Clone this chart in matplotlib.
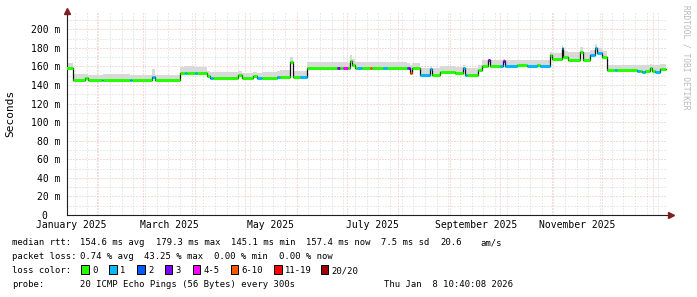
import numpy as np
import matplotlib
matplotlib.use("Agg")
import matplotlib.pyplot as plt
import matplotlib.dates as mdates
from matplotlib.ticker import MultipleLocator, NullFormatter
from matplotlib.transforms import ScaledTranslation
from matplotlib.patches import Rectangle

plt.rcParams['font.family'] = ['DejaVu Sans Mono']

# ---------------- data ----------------
seg_start = [
    "2025-01-13", "2025-01-18", "2025-01-25", "2025-01-27", "2025-02-04", "2025-02-05",
    "2025-02-21", "2025-02-22", "2025-03-06", "2025-03-08", "2025-03-23", "2025-03-26",
    "2025-03-27", "2025-04-01", "2025-04-02", "2025-04-08", "2025-04-10", "2025-04-12",
    "2025-04-27", "2025-04-29", "2025-05-06", "2025-05-08", "2025-05-11", "2025-05-20",
    "2025-05-22", "2025-05-28", "2025-05-30", "2025-06-03", "2025-06-07", "2025-06-25",
    "2025-06-27", "2025-06-29", "2025-07-02", "2025-07-03", "2025-07-04", "2025-07-06",
    "2025-07-07", "2025-07-10", "2025-07-15", "2025-07-16", "2025-07-23", "2025-07-25",
    "2025-08-06", "2025-08-07", "2025-08-08", "2025-08-09", "2025-08-14", "2025-08-20",
    "2025-08-21", "2025-08-26", "2025-09-04", "2025-09-09", "2025-09-10", "2025-09-11",
    "2025-09-18", "2025-09-20", "2025-09-24", "2025-09-25", "2025-10-01", "2025-10-03",
    "2025-10-04", "2025-10-11", "2025-10-17", "2025-10-23", "2025-10-25", "2025-10-31",
    "2025-11-01", "2025-11-07", "2025-11-08", "2025-11-11", "2025-11-18", "2025-11-20",
    "2025-11-24", "2025-11-27", "2025-11-28", "2025-12-01", "2025-12-04", "2025-12-09",
    "2025-12-10", "2025-12-22", "2025-12-24", "2025-12-25", "2025-12-27", "2025-12-30",
    "2025-12-31", "2026-01-02", "2026-01-05",
]
data_end = "2026-01-08T10:40"

median_ms = [
    158.5, 145.5, 147.0, 145.5, 145.5, 145.5,
    145.5, 145.5, 149.0, 145.5, 152.5, 152.5,
    152.5, 152.5, 152.5, 149.5, 147.0, 147.0,
    150.5, 147.0, 149.5, 147.0, 147.0, 149.0,
    149.0, 164.5, 149.0, 149.0, 158.0, 158.0,
    158.0, 158.0, 158.0, 166.0, 162.0, 158.0,
    158.0, 158.0, 158.0, 158.0, 158.0, 158.0,
    158.0, 158.0, 153.0, 158.0, 151.0, 157.0,
    151.0, 154.0, 152.5, 158.5, 151.0, 151.0,
    156.0, 160.5, 167.0, 160.5, 160.0, 166.0,
    160.0, 161.0, 160.0, 161.0, 160.0, 172.0,
    167.5, 179.5, 170.5, 167.0, 176.0, 167.0,
    172.5, 180.0, 174.0, 170.5, 156.5, 156.0,
    156.0, 155.0, 155.0, 154.5, 155.0, 158.0,
    155.0, 154.5, 157.0,
]

smoke_top_ms = [
    164, 152, 152, 151, 151, 152,
    151, 151, 157, 151, 159, 160,
    160, 159, 159, 155, 154, 154,
    155, 153, 154, 153, 154, 155,
    156, 170, 155, 155, 165, 165,
    165, 165, 164, 172, 168, 165,
    165, 165, 165, 165, 165, 165,
    164, 164, 162, 164, 158, 160,
    158, 160, 159, 162, 158, 158,
    161, 167, 168, 167, 167, 168,
    167, 167, 167, 167, 167, 176,
    174, 183, 177, 175, 181, 176,
    178, 184, 180, 177, 162, 162,
    162, 161, 161, 161, 161, 163,
    161, 162, 163,
]

loss_class = [
    0, 0, 0, 0, 1, 0,
    1, 0, 1, 0, 0, 1,
    0, 1, 0, 0, 1, 0,
    0, 0, 0, 1, 0, 1,
    0, 0, 0, 1, 0, 3,
    0, 4, 0, 0, 0, 0,
    1, 0, 5, 0, 1, 0,
    2, 3, 5, 0, 1, 1,
    0, 0, 0, 1, 1, 0,
    0, 0, 3, 0, 1, 3,
    1, 0, 1, 0, 1, 0,
    0, 1, 0, 0, 0, 0,
    1, 1, 1, 0, 0, 1,
    0, 1, 0, 1, 0, 0,
    0, 1, 0,
]

loss_labels = ["0", "1", "2", "3", "4-5", "6-10", "11-19", "20/20"]
loss_colors = ["#26ff00", "#00b8ff", "#0059ff", "#7e00ff", "#ff00ff", "#ff5500", "#ff0000", "#a10000"]

y_ticks = [0, 20, 40, 60, 80, 100, 120, 140, 160, 180, 200]
y_ticklabels = ["0", "20 m", "40 m", "60 m", "80 m", "100 m", "120 m", "140 m", "160 m", "180 m", "200 m"]

x_label_dates = ["2025-01-16T12", "2025-03-16T12", "2025-05-16T12",
                 "2025-07-16T12", "2025-09-16T12", "2025-11-16T12"]
x_label_text = ["January 2025", "March 2025", "May 2025",
                "July 2025", "September 2025", "November 2025"]

x_start = "2025-01-14T05:00"
x_stop = "2026-01-09T06:00"

# ---------------- figure ----------------
W, H = 697, 297
fig = plt.figure(figsize=(W / 100, H / 100), dpi=100)
fig.patch.set_facecolor("white")
ax = fig.add_axes([67 / W, 1 - 215 / H, 600 / W, (215 - 12) / H])

starts = mdates.date2num(np.array(seg_start, dtype="datetime64[m]"))
end = mdates.date2num(np.datetime64(data_end))
ends = np.append(starts[1:], end)
xs = np.append(starts, end)
med = np.array(median_ms, dtype=float)
smk = np.array(smoke_top_ms, dtype=float)
med_s = np.append(med, med[-1])
smk_s = np.append(smk, smk[-1])

# smoke
ax.fill_between(xs, med_s - 0.5, smk_s, step="post", color="#d9d9d9", lw=0, zorder=1)
# black median
ax.step(xs, med_s, where="post", color="#111111", lw=0.9, zorder=2)
# loss coloured median
lc = ax.hlines(med, starts, ends, colors=[loss_colors[c] for c in loss_class], lw=2.2, zorder=3)
lc.set_capstyle("butt")

ax.set_xlim(mdates.date2num(np.datetime64(x_start)), mdates.date2num(np.datetime64(x_stop)))
ax.set_ylim(0, 218.6)

# grid
ax.xaxis.set_major_locator(mdates.MonthLocator())
ax.xaxis.set_minor_locator(mdates.WeekdayLocator(byweekday=mdates.SU))
ax.xaxis.set_major_formatter(NullFormatter())
ax.xaxis.set_minor_formatter(NullFormatter())
ax.yaxis.set_major_locator(MultipleLocator(20))
ax.yaxis.set_minor_locator(MultipleLocator(10))
ax.set_axisbelow(True)
ax.grid(which="major", color="#f0b8b8", lw=0.72, ls=(0, (1, 2)), zorder=0)
ax.grid(which="minor", color="#d6d6d6", lw=0.72, ls=(0, (1, 2)), zorder=0)

ax.set_yticks(y_ticks)
ax.set_yticklabels(y_ticklabels)
ax.tick_params(axis="both", which="both", length=0)
ax.tick_params(axis="y", pad=5, labelsize=7)
lbl0 = ax.get_yticklabels()[0]
lbl0.set_transform(lbl0.get_transform() + ScaledTranslation(-0.13, 0, fig.dpi_scale_trans))

off = ScaledTranslation(0, -0.045, fig.dpi_scale_trans)
for d, t in zip(x_label_dates, x_label_text):
    ax.text(mdates.date2num(np.datetime64(d)), 0, t, transform=ax.get_xaxis_transform() + off,
            ha="center", va="top", fontsize=7)

for s in ["top", "right"]:
    ax.spines[s].set_visible(False)
for s in ["left", "bottom"]:
    ax.spines[s].set_color("#1f1f1f")
    ax.spines[s].set_linewidth(0.8)
ax.spines["bottom"].set_bounds(ax.get_xlim()[0], ax.get_xlim()[1] + 1.5)

# arrows
ax.plot([0], [1], marker="^", color="#7f1f1f", ms=4, transform=ax.transAxes +
        ScaledTranslation(0, 0.015, fig.dpi_scale_trans), clip_on=False, zorder=5)
ax.plot([1], [0], marker=">", color="#7f1f1f", ms=4, transform=ax.transAxes +
        ScaledTranslation(0.035, 0, fig.dpi_scale_trans), clip_on=False, zorder=5)

fig.text(10.5 / W, 1 - 113.5 / H, "Seconds", rotation=90, ha="center", va="center", fontsize=8)
fig.text(686 / W, 1 - 5 / H, "RRDTOOL / TOBI OETIKER", rotation=270, ha="center", va="top",
         fontsize=5.7, color="#b8b8b8")

# legend
fs = 6.4
def ftext(x, yb, s, **kw):
    fig.text(x / W, 1 - yb / H, s, va="baseline", ha="left", fontsize=fs, **kw)

ftext(12, 245, "median rtt:")
for x, s in zip([80, 155.7, 231, 306, 381, 440.7, 480],
                ["154.6 ms avg", "179.3 ms max", "145.1 ms min", "157.4 ms now", "7.5 ms sd", "20.6", "am/s"]):
    ftext(x, 245, s)
ftext(12, 259, "packet loss:")
for x, s in zip([80, 144.3, 214.3, 278.7], ["0.74 % avg", "43.25 % max", "0.00 % min", "0.00 % now"]):
    ftext(x, 259, s)
ftext(12, 273, "loss color:")
box_x = [81, 109, 137, 164.7, 192.7, 230.7, 274, 320.7]
for bx, lab, col in zip(box_x, loss_labels, loss_colors):
    fig.patches.append(Rectangle((bx / W, 1 - 274 / H), 7.5 / W, 9 / H, transform=fig.transFigure,
                                 facecolor=col, edgecolor="black", lw=0.7))
    ftext(bx + 11, 273, lab)
ftext(12, 287, "probe:")
ftext(80, 287, "20 ICMP Echo Pings (56 Bytes) every 300s")
ftext(384, 287, "Thu Jan  8 10:40:08 2026")

fig.savefig("out.png", dpi=100)
